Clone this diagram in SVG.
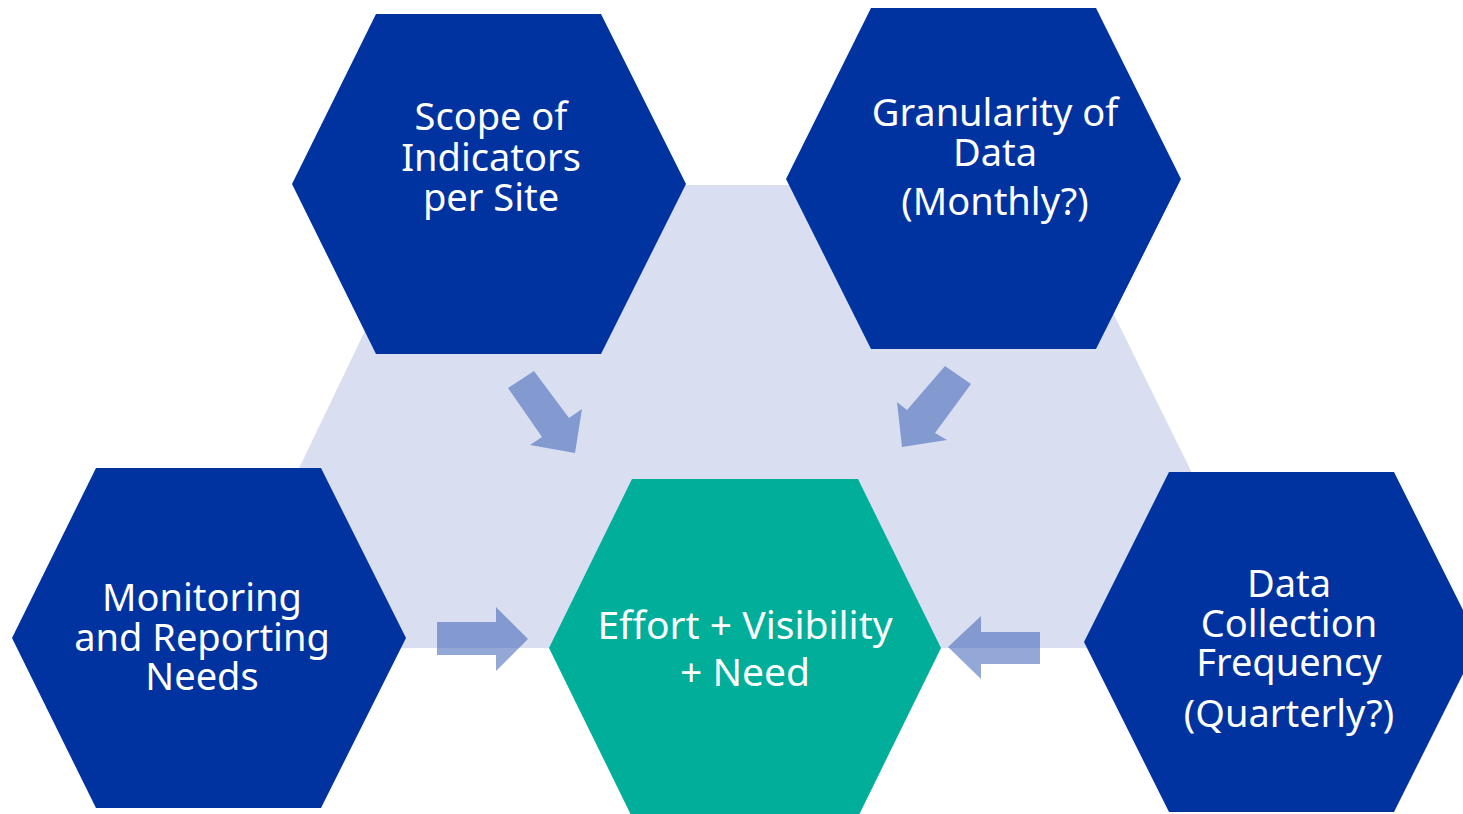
<svg xmlns="http://www.w3.org/2000/svg" width="1463" height="814" viewBox="0 0 1463 814">
<style>
.bg{fill:#D9DFF0}
.hex{fill:#0033A0}
.center{fill:#00AE9A}
.arrow{fill:#3C61B8;fill-opacity:0.55}
.lbl{font-family:"Noto Sans","Open Sans","Liberation Sans",sans-serif;font-size:38px;fill:#FFFFFF;text-anchor:middle}
.big{font-size:39px}
</style>
<rect x="0" y="0" width="1463" height="814" fill="#FFFFFF"/>
<polygon class="bg" points="435,185 1050,185 1235,560 1190,648 300,648 255,560"/>
<g id="scope">
<polygon class="hex" points="376,14 601,14 686,184 601,354 376,354 292,184"/>
<text class="lbl"><tspan x="491" y="130">Scope of</tspan><tspan x="491" y="171">Indicators</tspan><tspan x="491" y="211">per Site</tspan></text>
</g>
<g id="granularity">
<polygon class="hex" points="871,8 1096,8 1181,179 1096,349 871,349 786,179"/>
<text class="lbl"><tspan x="995" y="126">Granularity of</tspan><tspan x="995" y="166">Data</tspan><tspan x="995" y="215">(Monthly?)</tspan></text>
</g>
<g id="monitoring">
<polygon class="hex" points="96,468 321,468 406,638 321,808 96,808 12,638"/>
<text class="lbl"><tspan x="202" y="611">Monitoring</tspan><tspan x="202" y="651">and Reporting</tspan><tspan x="202" y="690">Needs</tspan></text>
</g>
<g id="collection">
<polygon class="hex" points="1169,472 1394,472 1479,642 1394,812 1169,812 1084,642"/>
<text class="lbl"><tspan x="1289" y="597">Data</tspan><tspan x="1289" y="637">Collection</tspan><tspan x="1289" y="676">Frequency</tspan><tspan x="1289" y="727">(Quarterly?)</tspan></text>
</g>
<g id="effort">
<polygon class="center" points="632,479 858,479 941,648 858,817 632,817 549,648"/>
<text class="lbl big"><tspan x="745" y="639">Effort + Visibility</tspan><tspan x="745" y="686">+ Need</tspan></text>
</g>
<g id="connectors">
<polygon class="arrow" points="508,388 534,371 569,418 582,409 575,453 530,445 542,437"/>
<polygon class="arrow" points="945,366 971,384 935,433 947,440 902,447 897,402 907,410"/>
<polygon class="arrow" points="437,622 496,622 496,607 528,639 496,671 496,655 437,655"/>
<polygon class="arrow" points="1040,632 981,632 981,616 948,647 981,679 981,664 1040,664"/>
</g>
</svg>
